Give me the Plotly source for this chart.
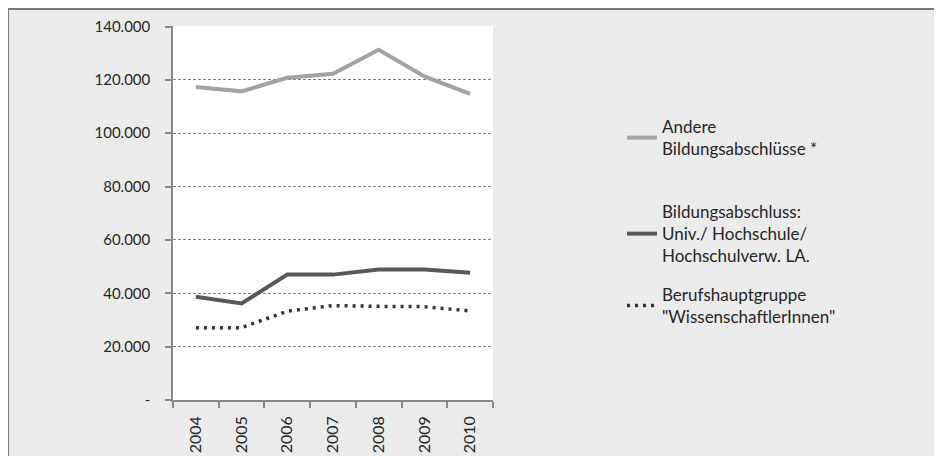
import plotly.graph_objects as go

years = ["2004", "2005", "2006", "2007", "2008", "2009", "2010"]
andere = [117300, 115700, 120800, 122300, 131300, 121300, 114800]
hochschule = [38700, 36200, 47000, 47000, 48900, 48900, 47700]
wissenschaftler = [27100, 27100, 33300, 35400, 35100, 35000, 33400]

names = [
    "Andere<br>Bildungsabschlüsse *",
    "Bildungsabschluss:<br>Univ./ Hochschule/<br>Hochschulverw. LA.",
    "Berufshauptgruppe<br>\"WissenschaftlerInnen\"",
]

ytickvals = [0, 20000, 40000, 60000, 80000, 100000, 120000, 140000]
yticktext = ["-", "20.000", "40.000", "60.000", "80.000", "100.000", "120.000", "140.000"]

FONT = "Lato"
OFF = 8  # page body margin
W, H = 942 - OFF, 456 - OFF
L, R, T, B = 173 - OFF, 493 - OFF, 26 - OFF, 400 - OFF  # plot area (figure px)


def px(x):
    return (x - L) / (R - L)


def py(y):
    return (B - y) / (B - T)


fig = go.Figure()
fig.add_trace(go.Scatter(x=years, y=andere, mode="lines", name=names[0],
                         line=dict(color="#a3a3a3", width=4), legend="legend"))
fig.add_trace(go.Scatter(x=years, y=hochschule, mode="lines", name=names[1],
                         line=dict(color="#595959", width=4), legend="legend2"))
fig.add_trace(go.Scatter(x=years, y=wissenschaftler, mode="lines", name=names[2],
                         line=dict(color="#333333", width=3.5, dash="3px,5px"), legend="legend3"))

legend_common = dict(font=dict(family=FONT, size=17, color="#262626"),
                     bgcolor="rgba(0,0,0,0)", borderwidth=0,
                     xanchor="left", yanchor="middle", valign="middle")

LX = 614  # legend left (figure px)

fig.update_layout(
    width=W, height=H,
    margin=dict(l=L, r=W - R, t=T, b=H - B, pad=0),
    paper_bgcolor="#ebebeb",
    plot_bgcolor="#ffffff",
    font=dict(family=FONT, size=15, color="#262626"),
    showlegend=True,
    legend=dict(x=px(LX), y=py(138 - OFF), **legend_common),
    legend2=dict(x=px(LX), y=py(234 - OFF), **legend_common),
    legend3=dict(x=px(LX), y=py(306 - OFF), **legend_common),
    xaxis=dict(
        type="category", range=[-0.5, 6.5], tickson="boundaries",
        ticks="outside", ticklen=6, tickcolor="#888888", tickwidth=1.5,
        showline=True, linecolor="#888888", linewidth=1.5,
        showgrid=False, tickangle=-90, tickfont=dict(size=16, color="#262626"),
        ticklabelstandoff=8, automargin=False, fixedrange=True,
    ),
    yaxis=dict(
        range=[0, 140200], tickvals=ytickvals, ticktext=yticktext,
        ticks="outside", ticklen=6, tickcolor="#888888", tickwidth=1.5,
        showline=True, linecolor="#888888", linewidth=1.5,
        showgrid=True, gridcolor="#7f7f7f", gridwidth=1, griddash="3px,2px",
        zeroline=False, tickfont=dict(size=15, color="#262626"),
        ticklabelstandoff=12, automargin=False, fixedrange=True,
    ),
    shapes=[
        dict(type="line", xref="paper", yref="paper", x0=px(0), x1=px(W + 20),
             y0=py(1), y1=py(1), line=dict(color="#7a7a7a", width=2), layer="above"),
        dict(type="line", xref="paper", yref="paper", x0=px(0), x1=px(0),
             y0=py(0), y1=py(H + 20), line=dict(color="#7a7a7a", width=2), layer="above"),
    ],
)

fig.write_html("out.html")
